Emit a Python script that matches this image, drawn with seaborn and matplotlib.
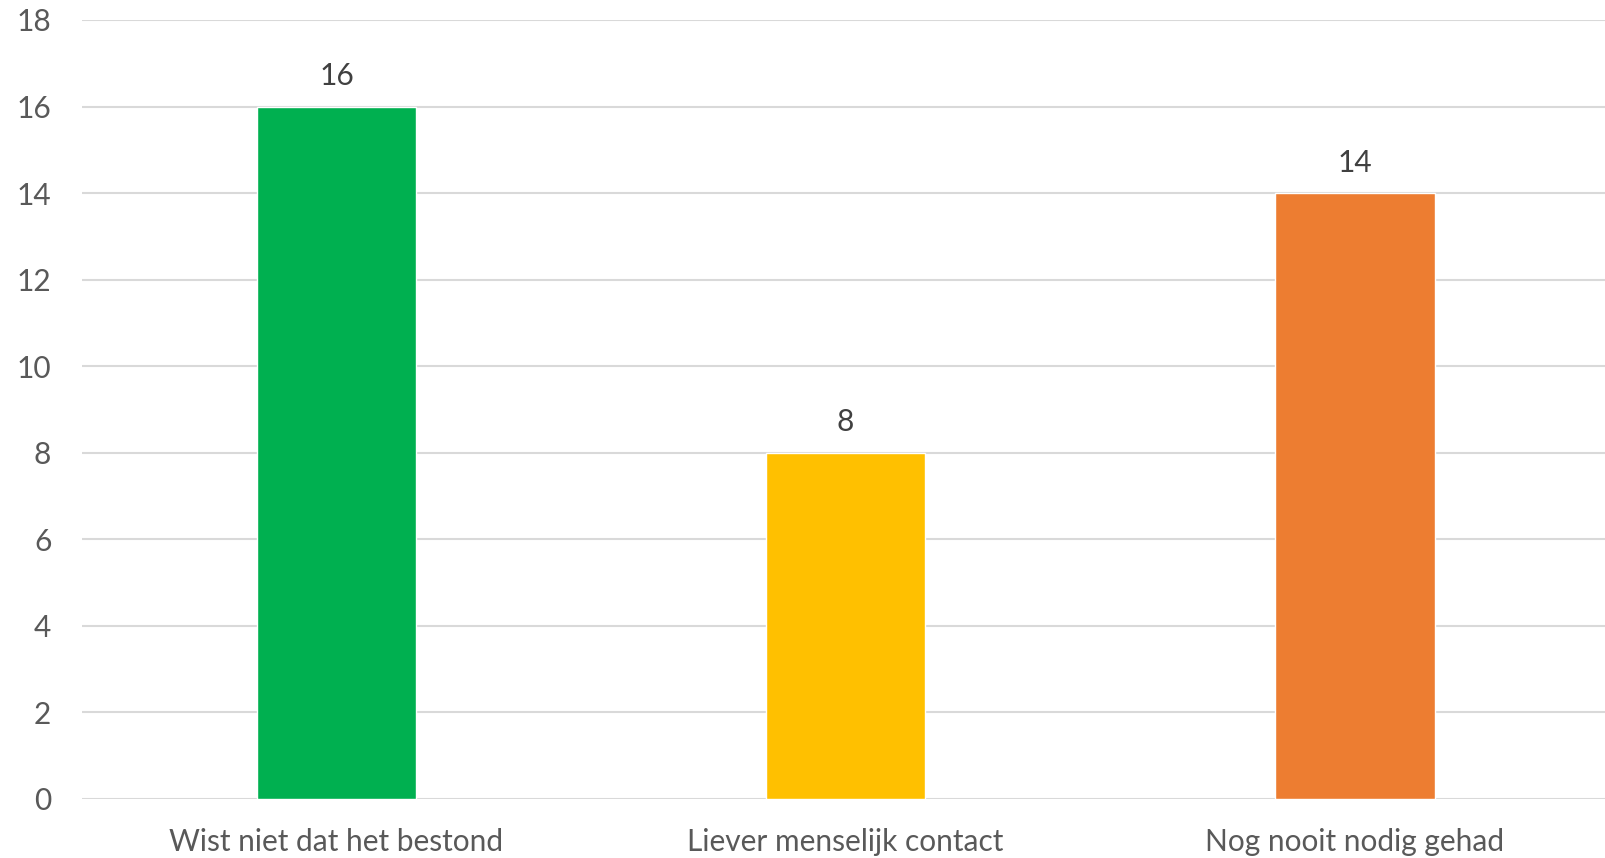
import seaborn as sns
import matplotlib.pyplot as plt
import pandas as pd

categorieen = ["Wist niet dat het bestond", "Liever menselijk contact", "Nog nooit nodig gehad"]
aantallen = [16, 8, 14]
kleuren = ["#00B050", "#FFC000", "#ED7D31"]

df = pd.DataFrame({"reden": categorieen, "aantal": aantallen})

sns.set_theme(style="white")
plt.rcParams['font.family'] = ['Lato', 'DejaVu Sans']

fig = plt.figure(figsize=(16.06, 8.58), dpi=100)
ax = fig.add_axes([0.051, 0.0688, 0.951, 0.9079])

sns.barplot(data=df, x="reden", y="aantal", hue="reden", palette=kleuren,
            width=0.314, legend=False, ax=ax, saturation=1)

# waarden boven de staven
for i, v in enumerate(aantallen):
    ax.text(i, v + 0.38, str(v), ha="center", va="bottom", fontsize=21.5, color="#404040")

ax.set_ylim(0, 18)
ax.set_yticks(range(0, 19, 2))
ax.yaxis.grid(True, color="#d9d9d9", linewidth=1.5)
ax.set_axisbelow(True)
for s in ax.spines.values():
    s.set_visible(False)
ax.tick_params(axis="both", length=0, labelsize=21.5, colors="#595959")
ax.tick_params(axis="y", pad=22)
ax.tick_params(axis="x", pad=21)
ax.set_xlabel("")
ax.set_ylabel("")

plt.savefig("out.png", dpi=100)
plt.close()
